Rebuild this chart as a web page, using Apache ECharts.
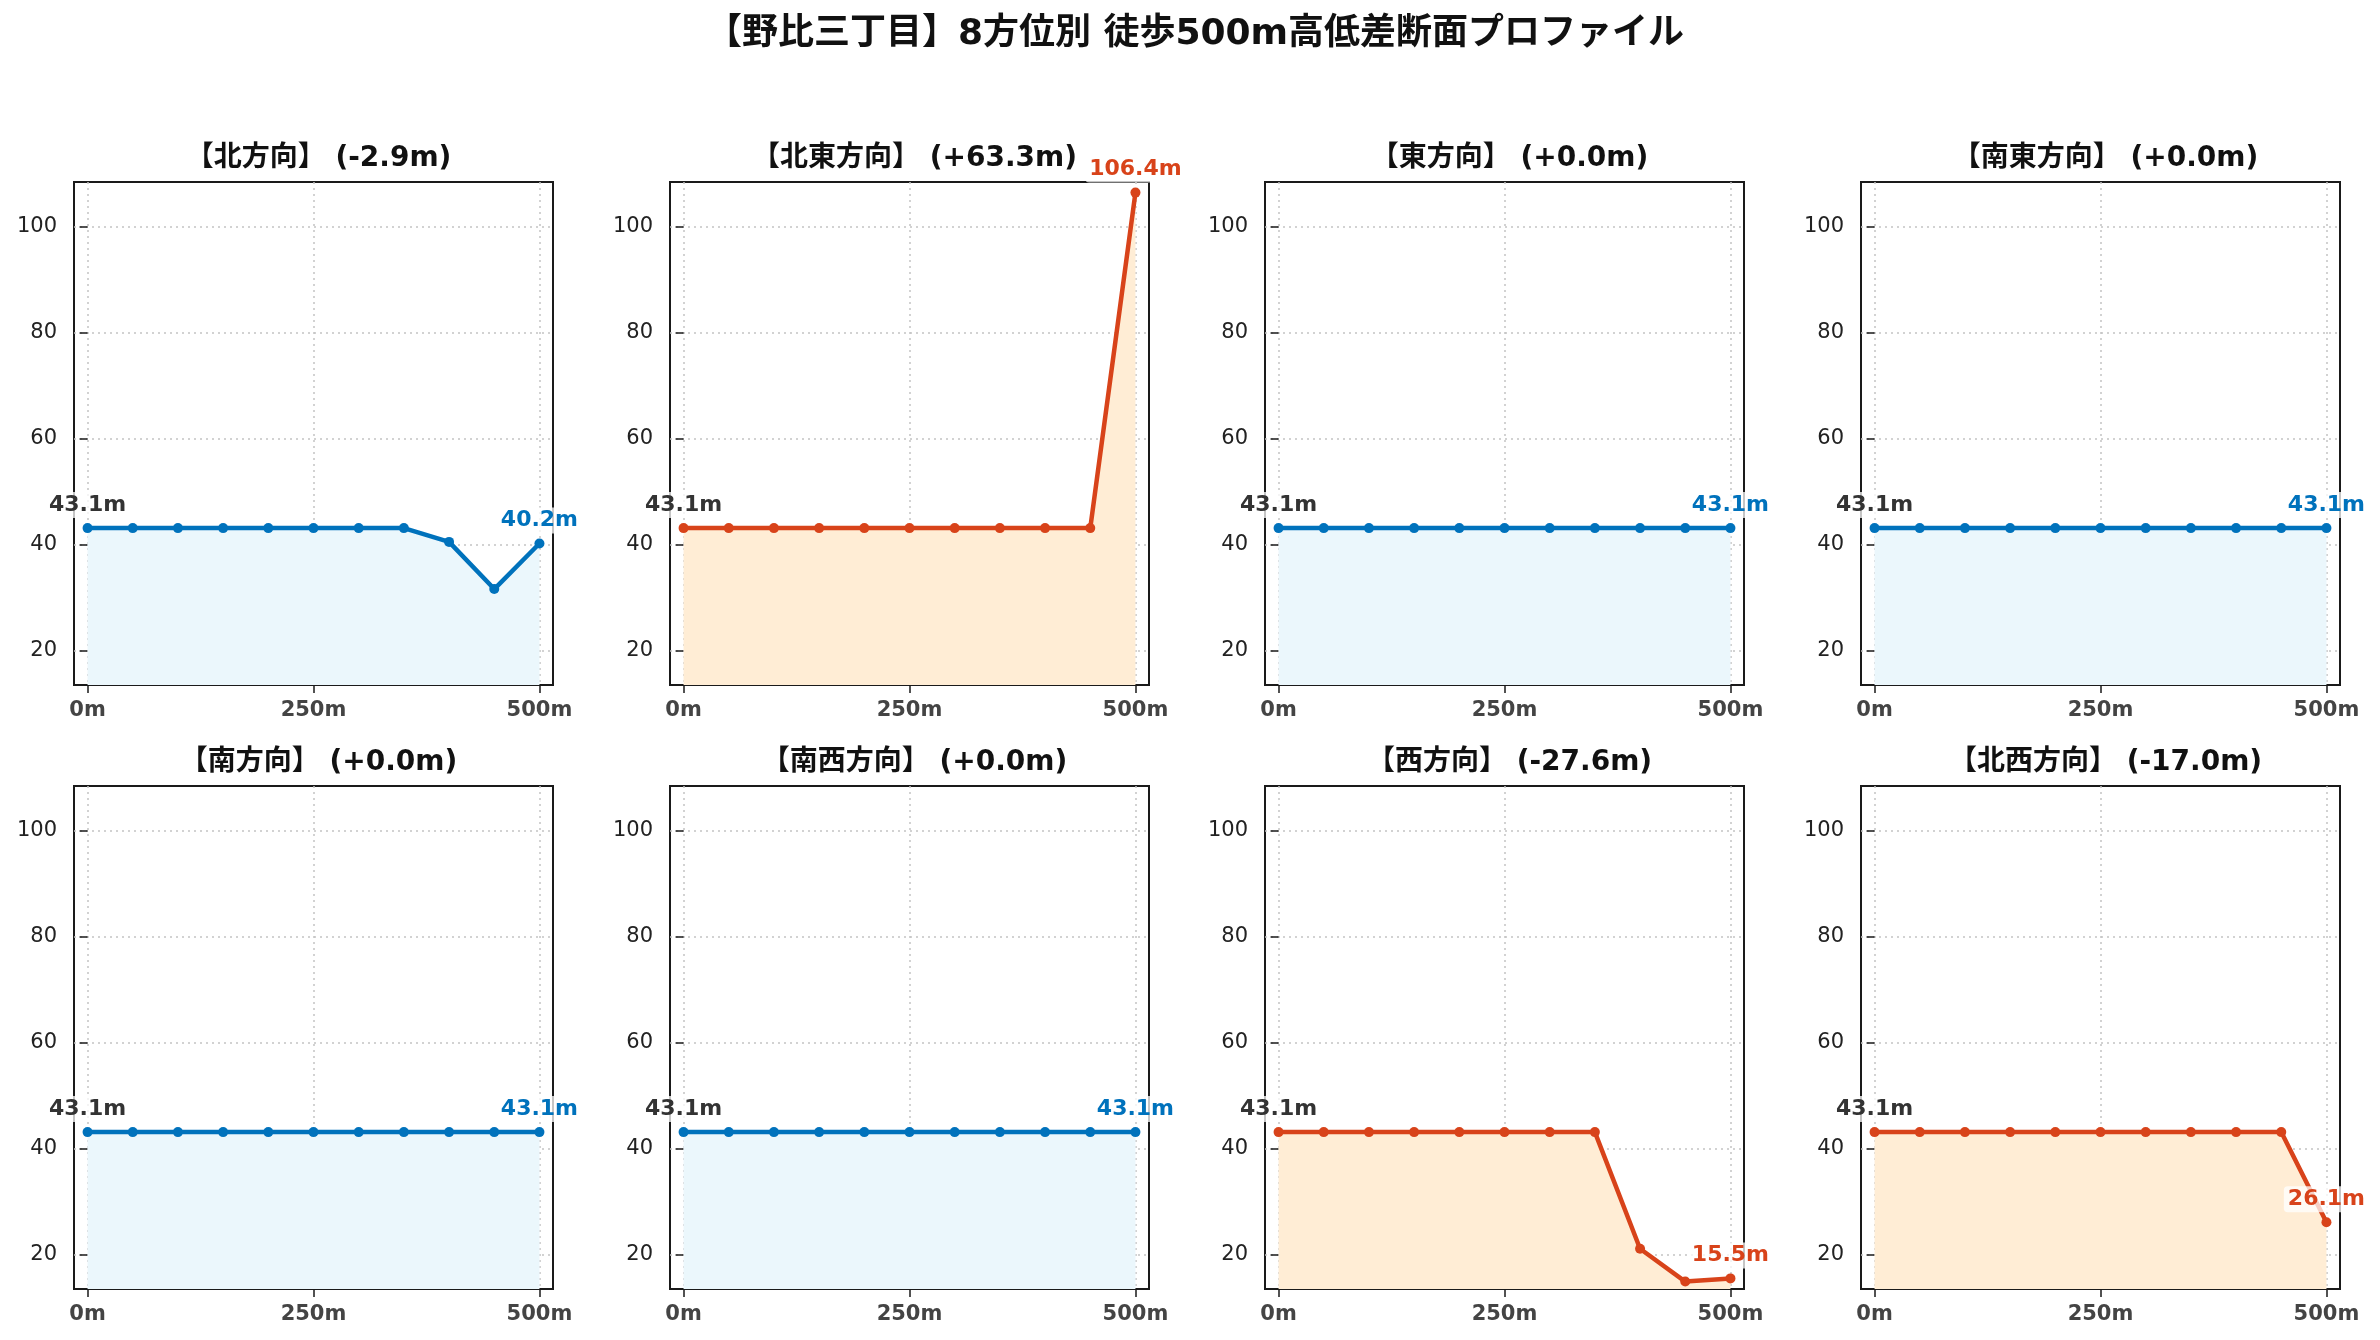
<!DOCTYPE html>
<html lang="ja">
<head>
	<meta charset="UTF-8">
	<title>野比三丁目 8方位別 高低差断面プロファイル</title>
	<script src="https://cdn.jsdelivr.net/npm/echarts@6/dist/echarts.min.js"></script>
	<style>
		html, body { margin: 0; padding: 0; background: #fff; }
		#main { width: 2380px; height: 1340px; }
	</style>
</head>
<body>
	<div id="main"></div>
	<script>
		// データ
		var mainTitle = '【野比三丁目】8方位別 徒歩500m高低差断面プロファイル';
		var dirNames = ['北方向', '北東方向', '東方向', '南東方向', '南方向', '南西方向', '西方向', '北西方向'];
		var distances = [0, 50, 100, 150, 200, 250, 300, 350, 400, 450, 500];
		var xTicks = [0, 250, 500];
		var yTicks = [20, 40, 60, 80, 100];

		var elevN  = [43.1, 43.1, 43.1, 43.1, 43.1, 43.1, 43.1, 43.1, 40.5, 31.6, 40.2];
		var elevNE = [43.1, 43.1, 43.1, 43.1, 43.1, 43.1, 43.1, 43.1, 43.1, 43.1, 106.4];
		var elevE  = [43.1, 43.1, 43.1, 43.1, 43.1, 43.1, 43.1, 43.1, 43.1, 43.1, 43.1];
		var elevSE = [43.1, 43.1, 43.1, 43.1, 43.1, 43.1, 43.1, 43.1, 43.1, 43.1, 43.1];
		var elevS  = [43.1, 43.1, 43.1, 43.1, 43.1, 43.1, 43.1, 43.1, 43.1, 43.1, 43.1];
		var elevSW = [43.1, 43.1, 43.1, 43.1, 43.1, 43.1, 43.1, 43.1, 43.1, 43.1, 43.1];
		var elevW  = [43.1, 43.1, 43.1, 43.1, 43.1, 43.1, 43.1, 43.1, 21.1, 14.9, 15.5];
		var elevNW = [43.1, 43.1, 43.1, 43.1, 43.1, 43.1, 43.1, 43.1, 43.1, 43.1, 26.1];
		var profiles = [elevN, elevNE, elevE, elevSE, elevS, elevSW, elevW, elevNW];

		var FONT = '"DejaVu Sans", "Noto Sans CJK JP", sans-serif';
		var BLUE = '#0072BC', BLUE_FILL = '#EBF7FC';
		var RED = '#D8431A', RED_FILL = '#FFEDD5';

		// レイアウト
		var colLeft = [74, 670, 1265, 1861];
		var rowTop = [182, 786];
		var plotW = 479, plotH = 503;

		var titles = [{
			text: mainTitle,
			left: 1190, top: 12, textAlign: 'center',
			textStyle: { fontFamily: FONT, fontSize: 36, fontWeight: 'bold', color: '#111' }
		}];
		var grids = [], xAxes = [], yAxes = [], series = [];

		profiles.forEach(function (elev, i) {
			var col = i % 4, row = Math.floor(i / 4);
			var diff = elev[elev.length - 1] - elev[0];
			var diffTxt = (diff < 0 ? '-' : '+') + Math.abs(diff).toFixed(1) + 'm';
			var big = Math.abs(diff) >= 10;
			var color = big ? RED : BLUE;

			titles.push({
				text: '【' + dirNames[i] + '】 (' + diffTxt + ')',
				left: colLeft[col] + plotW / 2, top: rowTop[row] - 42, textAlign: 'center',
				textStyle: { fontFamily: FONT, fontSize: 28, fontWeight: 'bold', color: '#111' }
			});
			grids.push({
				left: colLeft[col], top: rowTop[row], width: plotW, height: plotH,
				show: true, borderColor: '#1a1a1a', borderWidth: 2, backgroundColor: 'transparent'
			});
			xAxes.push({
				type: 'value', gridIndex: i, min: -15, max: 515,
				axisLine: { show: false },
				axisTick: { show: true, length: 8, customValues: xTicks, lineStyle: { color: '#1a1a1a', width: 1.5 } },
				axisLabel: {
					customValues: xTicks, margin: 15, fontFamily: FONT, fontSize: 21, fontWeight: 'bold', color: '#444',
					formatter: function (v) { return v + 'm'; }
				},
				splitLine: { show: true, customValues: xTicks, lineStyle: { color: '#c4c4c4', type: [2, 4], width: 1.5 } }
			});
			yAxes.push({
				type: 'value', gridIndex: i, min: 13.5, max: 108.4,
				axisLine: { show: false },
				axisTick: { show: true, length: 8, customValues: yTicks, lineStyle: { color: '#1a1a1a', width: 1.5 } },
				axisLabel: { customValues: yTicks, margin: 17, fontFamily: FONT, fontSize: 21, color: '#222' },
				splitLine: { show: true, customValues: yTicks, lineStyle: { color: '#c4c4c4', type: [2, 4], width: 1.5 } }
			});

			var labelBase = {
				show: true, position: 'top', distance: 5,
				fontFamily: FONT, fontSize: 22, fontWeight: 'bold',
				backgroundColor: 'rgba(255,255,255,0.75)', padding: [2, 4], borderRadius: 4
			};
			var data = elev.map(function (v, k) {
				var item = { value: [distances[k], v] };
				if (k === 0) {
					item.label = Object.assign({}, labelBase, { color: '#333' });
				} else if (k === elev.length - 1) {
					item.label = Object.assign({}, labelBase, { color: color });
				}
				return item;
			});
			series.push({
				type: 'line', xAxisIndex: i, yAxisIndex: i,
				data: data,
				symbol: 'circle', symbolSize: 10, showAllSymbol: true,
				lineStyle: { color: color, width: 4.5 },
				itemStyle: { color: color },
				areaStyle: { color: big ? RED_FILL : BLUE_FILL, opacity: 1, origin: 'start' },
				label: { show: false, formatter: function (p) { return p.value[1].toFixed(1) + 'm'; } },
				z: 3
			});
		});

		var chart = echarts.init(document.getElementById('main'));
		chart.setOption({
			animation: false,
			backgroundColor: '#fff',
			title: titles,
			grid: grids,
			xAxis: xAxes,
			yAxis: yAxes,
			series: series
		});
	</script>
</body>
</html>
